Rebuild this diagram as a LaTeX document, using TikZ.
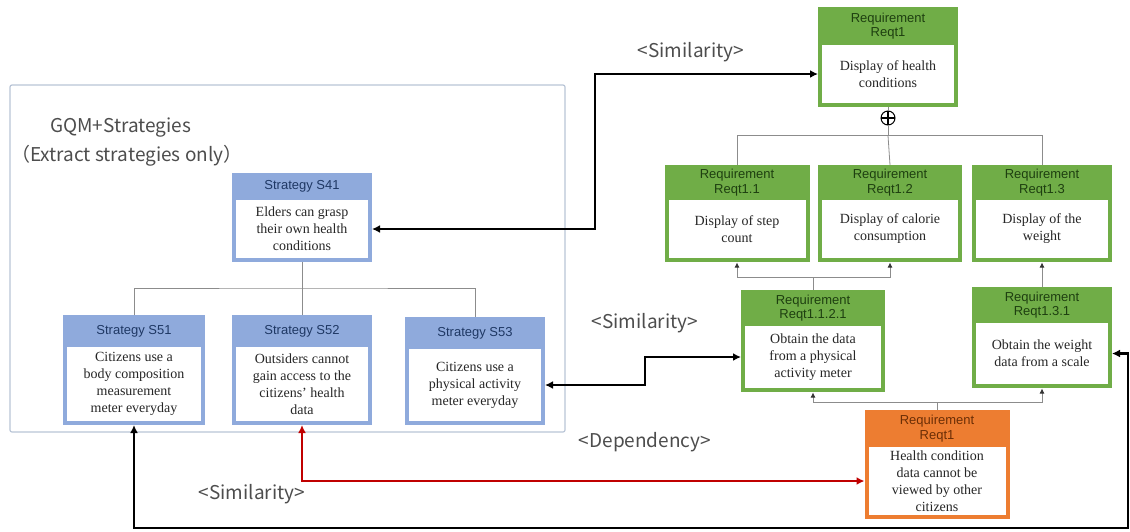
\documentclass[tikz,border=0pt]{standalone}
\usepackage{fontspec}
\setmainfont{Liberation Serif}
\newfontfamily\hdfont{Liberation Sans}
\newfontfamily\jpfont{Noto Sans CJK JP}
\usetikzlibrary{arrows.meta,calc}

\definecolor{strfill}{HTML}{8FAADC}
\definecolor{strtext}{HTML}{1F3864}
\definecolor{reqfill}{HTML}{70AD47}
\definecolor{reqtext}{HTML}{1E3F10}
\definecolor{orgfill}{HTML}{ED7D31}
\definecolor{orgtext}{HTML}{6B2E06}
\definecolor{framegray}{HTML}{B8C4D6}
\definecolor{treegray}{HTML}{8C8C8C}
\definecolor{linkred}{HTML}{C00000}
\definecolor{labelgray}{HTML}{4D4D4D}

\tikzset{
  cardframe/.style={rectangle, inner sep=0pt, outer sep=0pt, draw=none},
  cardhead/.style={font=\hdfont\fontsize{13}{14.5}\selectfont, align=center, inner sep=0pt},
  cardbody/.style={font=\fontsize{14}{17}\selectfont, align=center, inner sep=0pt, text=black!85},
  tree/.style={draw=treegray, line width=0.8pt},
  treearrow/.style={tree, -{Latex[length=5pt,width=5pt,color=black!80]}, shorten >=0.5pt},
  biglink/.style={line width=2.6pt, {Latex[length=8pt,width=8pt]}-{Latex[length=8pt,width=8pt]}},
  lbl/.style={font=\jpfont\fontsize{19}{22}\selectfont, text=labelgray, inner sep=0pt},
  oplus/.style={circle, draw=black, line width=1pt, minimum size=14pt, inner sep=0pt, fill=white,
    path picture={\draw[line width=1.2pt] (path picture bounding box.north) -- (path picture bounding box.south)
      (path picture bounding box.west) -- (path picture bounding box.east);}}
}

% \card{name}{centre x}{top y}{width}{height}{header height}{colour prefix}{header}{body}
\newcommand\card[9]{%
  \node[cardframe, fill=#7fill, minimum width=#4pt, minimum height=#5pt, anchor=north] (#1) at (#2,#3) {};
  \fill[white] ($(#1.north west)+(4,#6)$) rectangle ($(#1.south east)+(-4,-4)$);
  \node[cardhead, text=#7text] (#1-h) at ($(#1.north)+(0,{#6/2})$) {#8};
  \node[cardbody] (#1-b) at ($(#1.center)+(0,{#6/2-2})$) {#9};
  \coordinate (#1-bl) at (#1.west |- #1-b.center);
  \coordinate (#1-br) at (#1.east |- #1-b.center);
}

\begin{document}
\begin{tikzpicture}[x=1pt, y=-1pt]
\useasboundingbox (0,0) rectangle (1130,531);

% GQM+Strategies frame and title
\draw[framegray, line width=1.2pt, rounded corners=2pt] (10,85) rectangle (565,432);
\node[lbl, anchor=west] (ttl1) at (50,128) {GQM+Strategies};
\node[lbl, anchor=west] (ttl2) at (11,156) {（Extract strategies only）};

% strategies
\card{s41}{302}{173}{140}{89}{27}{str}{Strategy S41}{Elders can grasp\\their own health\\conditions}
\card{s51}{134}{315}{142}{110}{32}{str}{Strategy S51}{Citizens use a\\body composition\\measurement\\meter everyday}
\card{s52}{302}{315}{140}{110}{32}{str}{Strategy S52}{Outsiders cannot\\gain access to the\\citizens' health\\data}
\card{s53}{475}{317}{140}{108}{32}{str}{Strategy S53}{Citizens use a\\physical activity\\meter everyday}

\draw[tree] (s41.south) -- ++(0,26) coordinate (sj);
\draw[tree] (s51.north) |- (sj) -| (s53.north);
\draw[tree] (sj) -- (s52.north);

% requirements
\card{r1}{888}{7}{140}{100}{38}{req}{Requirement\\Reqt1}{Display of health\\conditions}
\card{r11}{737}{165}{145}{97}{35}{req}{Requirement\\Reqt1.1}{Display of step\\count}
\card{r12}{890}{165}{144}{97}{35}{req}{Requirement\\Reqt1.2}{Display of calorie\\consumption}
\card{r13}{1042}{165}{140}{97}{35}{req}{Requirement\\Reqt1.3}{Display of the\\weight}
\card{r1121}{813}{290}{144}{102}{36}{req}{Requirement\\Reqt1.1.2.1}{Obtain the data\\from a physical\\activity meter}
\card{r131}{1042}{287}{140}{101}{36}{req}{Requirement\\Reqt1.3.1}{Obtain the weight\\data from a scale}
\card{org}{937}{410}{145}{109}{37}{org}{Requirement\\Reqt1}{Health condition\\data cannot be\\viewed by other\\citizens}

\node[oplus] (op) at ($(r1.south)+(0,11)$) {};
\draw[tree] (r1.south) -- (op.north);
\draw[tree] (op.south) -- ++(0,10) coordinate (rj);
\draw[tree] (r11.north) |- (rj) -| (r13.north);
\draw[tree] (rj) -- (r12.north);

\draw[tree] (r1121.north) -- ++(0,-13) coordinate (aj);
\draw[treearrow] (aj) -| (r11.south);
\draw[treearrow] (aj) -| (r12.south);
\draw[treearrow] (r131.north) -- (r13.south);

\draw[tree] (org.north) -- ++(0,-8) coordinate (oj);
\draw[treearrow] (oj) -| (r1121.south);
\draw[treearrow] (oj) -| (r131.south);

% trace links
\draw[biglink] (s41-br) -- ($(s41-br)+(223,0)$) |- (r1-bl);
\draw[biglink] (s53-br) -- ($(s53-br)+(100,0)$) |- (r1121-bl);
\coordinate (loop) at (1128,528);
\draw[biglink] (s51.south) |- (loop) |- (r131-br);
\draw[biglink, linkred] (s52.south) |- (org-bl);

% link labels
\node[lbl] (simA) at (691,52) {<Similarity>};
\node[lbl] (simB) at (645,323) {<Similarity>};
\node[lbl] (dep) at (645,442) {<Dependency>};
\node[lbl] (simC) at (252,494) {<Similarity>};
\end{tikzpicture}
\end{document}
